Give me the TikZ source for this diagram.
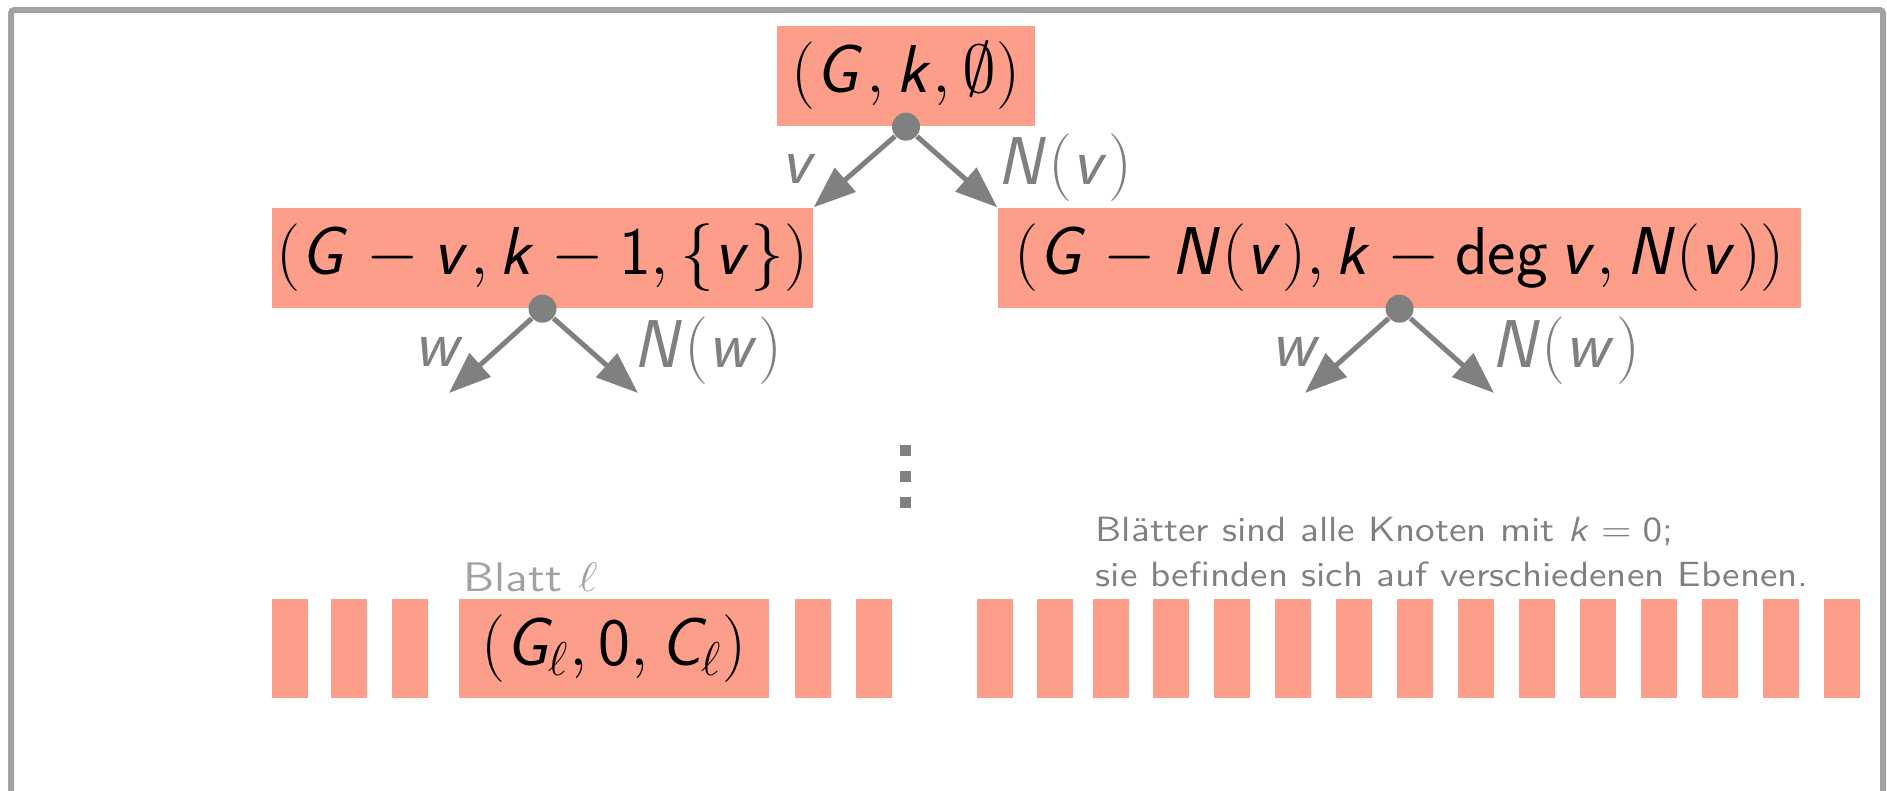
\RequirePackage{fix-cm}
\documentclass[tikz,border=0pt]{standalone}
\usetikzlibrary{arrows.meta}
\DeclareMathAlphabet{\msl}{OT1}{cmss}{m}{sl}
\DeclareMathAlphabet{\msf}{OT1}{cmss}{m}{n}
\definecolor{salmon}{RGB}{252,158,138}
\definecolor{arrowgray}{RGB}{128,128,128}
\definecolor{framegray}{RGB}{162,162,162}
\newcommand{\bigf}{\fontsize{20.3}{24}\selectfont}
\newcommand{\smallf}{\fontsize{10.5}{13.5}\selectfont\sffamily}
\newcommand{\wide}[2]{\scalebox{#1}[1]{#2}}
\begin{document}
\begin{tikzpicture}[x=0.3pt,y=-0.3pt,
  box/.style={fill=salmon, inner sep=0pt, text=black, font=\bigf, minimum height=30pt},
  stripe/.style={fill=salmon, inner sep=0pt, minimum width=10.8pt, minimum height=29.7pt},
  dotn/.style={circle, fill=arrowgray, inner sep=0pt, minimum size=8.4pt},
  arr/.style={draw=arrowgray, line width=1.5pt, -{Triangle[length=12.6pt,width=9.3pt]}},
  elabel/.style={text=arrowgray, font=\bigf, inner sep=0pt},
  vdot/.style={fill=arrowgray, inner sep=0pt, minimum size=3.3pt},
  note/.style={anchor=base west, inner sep=0pt, text=arrowgray, font=\smallf},
]
\clip (0,0) rectangle (1887,790);
% frame
\draw[framegray, line width=1.8pt, rounded corners=1pt] (11,900) -- (11,10) -- (1883,10) -- (1883,900);

% boxes
\node[box, minimum width=77.4pt] (root) at (906,76) {$(\msl{G}, \msl{k}, \emptyset)$};
\node[box, minimum width=162.3pt] (lc) at (542.5,258) {$(\msl{G} - \msl{v}, \msl{k} - \msf{1}, \{\msl{v}\})$};
\node[box, minimum width=240.9pt] (rc) at (1399.5,258) {$(\msl{G} - \msl{N}(\msl{v}), \msl{k} - \mathop{\msf{deg}}\msl{v}, \msl{N}(\msl{v}))$};

% dots
\node[dotn] (d0) at (root.south) {};
\node[dotn] (d1) at (lc.south) {};
\node[dotn] (d2) at (rc.south) {};

% arrows
\draw[arr] (d0) -- (lc.north east);
\draw[arr] (d0) -- (rc.north west);
\coordinate (t1l) at (449,393);
\coordinate (t1r) at (638,393);
\coordinate (t2l) at (1305,393);
\coordinate (t2r) at (1494,393);
\draw[arr] (d1) -- (t1l);
\draw[arr] (d1) -- (t1r);
\draw[arr] (d2) -- (t2l);
\draw[arr] (d2) -- (t2r);

% edge labels
\node[elabel] (lv) at (800,169) {$\msl{v}$};
\node[elabel] (lnv) at (1065,167.5) {$\msl{N}(\msl{v})$};
\node[elabel] (lw1) at (439.5,352) {$\msl{w}$};
\node[elabel] (lnw1) at (708,350.5) {$\msl{N}(\msl{w})$};
\node[elabel] (lw2) at (1297,352) {$\msl{w}$};
\node[elabel] (lnw2) at (1565.5,350.5) {$\msl{N}(\msl{w})$};

% vertical dots
\node[vdot] (vd1) at (905.5,450.5) {};
\node[vdot] (vd2) at (905.5,476.5) {};
\node[vdot] (vd3) at (905.5,502.5) {};

% note text
\node[note] (note1) at (1095,541) {\wide{1.12}{Blätter sind alle Knoten mit $\msl{k} = \msf{0}$;}};
\node[note] (note2) at (1095,586.5) {\wide{1.12}{sie befinden sich auf verschiedenen Ebenen.}};

% leaves
\foreach \cx [count=\i] in {290,349,410,813,874,995,1055,1111,1171,1232,1293,1354,1415,1476,1537,1598,1659,1720,1781,1842}
  \node[stripe] (s\i) at (\cx,648.5) {};
\node[box, minimum width=93.15pt, minimum height=29.7pt] (leaf) at (613.75,648.5) {$(\msl{G}_{\ell}, \msf{0}, \msl{C}_{\ell})$};
\node[anchor=base west, inner sep=0pt, text=framegray, font=\fontsize{12.4}{14}\selectfont\sffamily] (blatt) at (463,591) {\wide{1.16}{Blatt $\ell$}};
\end{tikzpicture}
\end{document}
